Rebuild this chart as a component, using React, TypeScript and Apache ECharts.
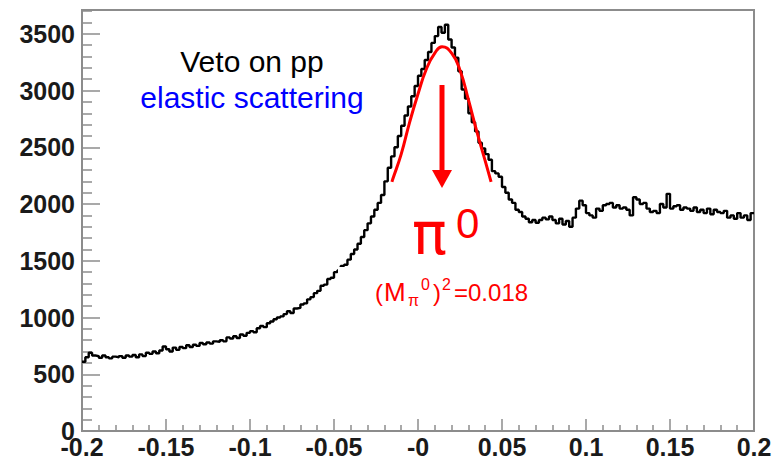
import React, { useEffect, useRef } from "react";
import * as echarts from "echarts";

// Histogram: 200 bins of width 0.002 from -0.2 to 0.2
const binMin = -0.2;
const binWidth = 0.002;
const counts = [
  610, 650, 690, 665, 660, 645, 665, 650, 640, 655,
  650, 660, 645, 665, 655, 670, 650, 675, 660, 690,
  680, 700, 685, 710, 745, 720, 700, 735, 715, 740,
  730, 755, 740, 760, 750, 775, 765, 780, 770, 790,
  785, 800, 790, 825, 815, 835, 820, 850, 840, 865,
  880, 870, 905, 925, 915, 950, 965, 985, 1000, 1010,
  1030, 1055, 1040, 1080, 1085, 1115, 1125, 1160, 1180, 1215,
  1235, 1280, 1290, 1340, 1350, 1400, 1415, 1455, 1465, 1510,
  1560, 1600, 1650, 1710, 1770, 1830, 1890, 1950, 2010, 2080,
  2200, 2320, 2420, 2500, 2600, 2690, 2780, 2860, 2950, 3040,
  3130, 3190, 3270, 3340, 3420, 3480, 3560, 3510, 3580, 3450,
  3380, 3290, 3170, 3010, 2930, 2800, 2720, 2640, 2540, 2490,
  2440, 2390, 2290, 2270, 2240, 2150, 2100, 2040, 2010, 1950,
  1930, 1890, 1870, 1840, 1860, 1835, 1860, 1880, 1865, 1890,
  1860, 1830, 1870, 1820, 1850, 1800, 1880, 1960, 2030, 1990,
  1920, 1900, 1880, 1960, 1940, 1990, 2000, 2010, 1970, 1990,
  1960, 1970, 1950, 1900, 2060, 2040, 2000, 2010, 1960, 1930,
  1940, 1920, 2000, 1970, 2090, 1960, 1980, 1990, 1950, 1970,
  1960, 1940, 1970, 1930, 1950, 1920, 1960, 1910, 1950, 1930,
  1920, 1940, 1880, 1900, 1870, 1920, 1880, 1900, 1860, 1920,
];

// Red fit curve
const fitX = [-0.0155, -0.015, -0.01, -0.005, 0, 0.005, 0.01, 0.0143, 0.02, 0.025, 0.03, 0.035, 0.04, 0.0435];
const fitY = [2196, 2220, 2440, 2720, 2970, 3190, 3330, 3386, 3330, 3180, 2920, 2640, 2380, 2196];

const xTickLabels = ["-0.2", "-0.15", "-0.1", "-0.05", "-0", "0.05", "0.1", "0.15", "0.2"];
const yTickValues = [0, 500, 1000, 1500, 2000, 2500, 3000, 3500];

const AXIS_GREY = "#8c8c8c";
const SANS = "'Liberation Sans', Arial, sans-serif";

export default function App() {
  const ref = useRef<HTMLDivElement>(null);

  useEffect(() => {
    if (!ref.current) return;
    const chart = echarts.init(ref.current, null, { renderer: "svg" });

    const histData: number[][] = counts.map((c, i) => [binMin + i * binWidth, c]);
    histData.push([binMin + counts.length * binWidth, counts[counts.length - 1]]);
    const fitData = fitX.map((x, i) => [x, fitY[i]]);

    const labelStyle = {
      fontFamily: SANS,
      fontWeight: "bold" as const,
      fontSize: 25,
      color: "#1a1a1a",
    };

    const red = (text: string, x: number, y: number, size: number, family = SANS) => ({
      type: "text",
      z: 101,
      style: { text, x, y, align: "left", verticalAlign: "middle", font: `${size}px ${family}`, fill: "#ff0000" },
    });

    chart.setOption({
      animation: false,
      backgroundColor: "#ffffff",
      grid: {
        left: 82,
        top: 10,
        right: 22,
        bottom: 30,
        show: true,
        borderColor: AXIS_GREY,
        borderWidth: 2,
        containLabel: false,
      },
      xAxis: {
        type: "value",
        min: -0.2,
        max: 0.2,
        interval: 0.05,
        splitLine: { show: false },
        axisLine: { show: true, onZero: false, lineStyle: { color: AXIS_GREY, width: 2 } },
        axisTick: { show: true, inside: true, length: 12, lineStyle: { color: AXIS_GREY, width: 1.5 } },
        minorTick: { show: true, splitNumber: 5, length: 6, lineStyle: { color: AXIS_GREY, width: 1.5 } },
        axisLabel: {
          ...labelStyle,
          margin: 3,
          showMinLabel: true,
          showMaxLabel: true,
          formatter: (v: number) => {
            const idx = Math.round((v + 0.2) / 0.05);
            return Math.abs(v - (-0.2 + idx * 0.05)) < 1e-6 ? xTickLabels[idx] ?? "" : "";
          },
        },
      },
      yAxis: {
        type: "value",
        min: 0,
        max: 3710,
        interval: 500,
        splitLine: { show: false },
        axisLine: { show: true, onZero: false, lineStyle: { color: AXIS_GREY, width: 2 } },
        axisTick: { show: true, inside: true, length: 18, lineStyle: { color: AXIS_GREY, width: 1.5 } },
        minorTick: { show: true, splitNumber: 5, length: 10, lineStyle: { color: AXIS_GREY, width: 1.5 } },
        axisLabel: {
          ...labelStyle,
          margin: 7,
          showMaxLabel: false,
          formatter: (v: number) => (yTickValues.includes(Math.round(v)) && Math.abs(v - Math.round(v)) < 1e-6 ? String(Math.round(v)) : ""),
        },
      },
      series: [
        {
          type: "line",
          data: histData,
          step: "end",
          symbol: "none",
          lineStyle: { color: "#000000", width: 2.4 },
          z: 3,
        },
        {
          type: "line",
          data: fitData,
          smooth: true,
          symbol: "none",
          lineStyle: { color: "#ff0000", width: 3 },
          z: 4,
        },
      ],
      graphic: [
        {
          type: "rect",
          z: 100,
          shape: { x: 338, y: 267, width: 227, height: 51 },
          style: { fill: "#ffffff" },
        },
        {
          type: "text",
          z: 101,
          style: { text: "Veto on pp", x: 252, y: 61, align: "center", verticalAlign: "middle", font: `30px ${SANS}`, fill: "#000000" },
        },
        {
          type: "text",
          z: 101,
          style: { text: "elastic scattering", x: 252, y: 97, align: "center", verticalAlign: "middle", font: `30px ${SANS}`, fill: "#0000ff" },
        },
        {
          type: "line",
          z: 101,
          shape: { x1: 442, y1: 85, x2: 442, y2: 174 },
          style: { stroke: "#ff0000", lineWidth: 5 },
        },
        {
          type: "polygon",
          z: 101,
          shape: { points: [[432, 170], [452, 170], [442, 188]] },
          style: { fill: "#ff0000" },
        },
        red("π", 412, 234, 58, "'DejaVu Sans', sans-serif"),
        red("0", 456, 223, 42),
        red("(", 375, 292, 24),
        red("M", 384, 292, 26),
        red("π", 408, 300, 16),
        red("0", 421, 284, 16),
        red(")", 433, 292, 24),
        red("2", 442, 284, 16),
        red("=0.018", 454, 292, 24),
      ],
    });

    return () => chart.dispose();
  }, []);

  return (
    <div
      ref={ref}
      style={{ position: "fixed", left: 0, top: 0, width: 776, height: 461, background: "#ffffff" }}
    />
  );
}
